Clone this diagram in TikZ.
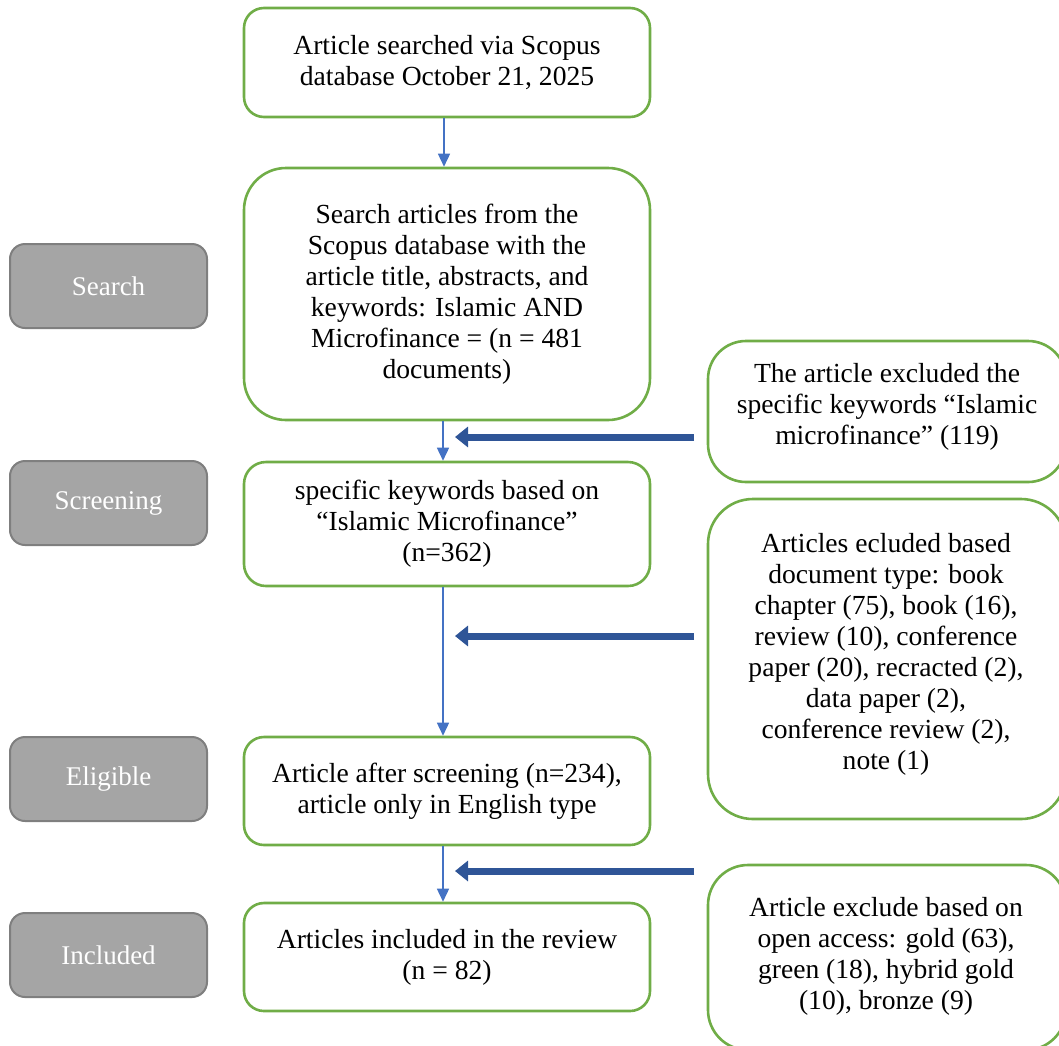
\documentclass[tikz,border=0pt]{standalone}
\usepackage{fontspec}
\setmainfont{Liberation Serif}
\usetikzlibrary{arrows.meta}
\definecolor{boxgreen}{HTML}{70AD47}
\definecolor{lblfill}{HTML}{A5A5A5}
\definecolor{lbldraw}{HTML}{7F7F7F}
\definecolor{thinblue}{HTML}{4472C4}
\definecolor{thickblue}{HTML}{2F5597}
\begin{document}
\begin{tikzpicture}[x=1pt,y=-1pt,
  box/.style={draw=boxgreen, line width=2.6pt, align=center, inner sep=0pt,
    font=\fontsize{27.6}{31}\selectfont, text=black},
  boxtext/.style={align=center, inner sep=0pt, font=\fontsize{27.6}{31}\selectfont, text=black},
  lbl/.style={draw=lbldraw, fill=lblfill, line width=2pt, rounded corners=15pt,
    minimum width=197pt, minimum height=84pt, inner sep=0pt,
    font=\fontsize{27}{31}\selectfont, text=white},
  thinarrow/.style={draw=thinblue, line width=1.5pt, -{Triangle[width=12pt,length=13pt]}},
  thickarrow/.style={draw=thickblue, line width=7pt, -{Triangle[width=20pt,length=13pt]}}
]
\useasboundingbox (0,0) rectangle (1059,1045);
\begin{scope}
\clip (0,0) rectangle (1059,1045);
% main column
\node[box, rounded corners=20pt, minimum width=406pt, minimum height=109pt] (b1) at (447,62.5)
  {Article searched via Scopus\\database October 21, 2025};
\node[box, rounded corners=42pt, minimum width=406pt, minimum height=252pt] (b2) at (447,294)
  {Search articles from the\\Scopus database with the\\article title, abstracts, and\\keywords: Islamic AND\\Microfinance = (n = 481\\documents)};
\node[box, rounded corners=22pt, minimum width=406pt, minimum height=124pt] (b3) at (447,524)
  {specific keywords based on\\“Islamic Microfinance”\\(n=362)};
\node[box, rounded corners=20pt, minimum width=406pt, minimum height=108pt] (b4) at (447,791)
  {Article after screening (n=234),\\article only in English type};
\node[box, rounded corners=20pt, minimum width=406pt, minimum height=108pt] (b5) at (447,957)
  {Articles included in the review\\(n = 82)};
% right column
\node[box, rounded corners=38pt, minimum width=358pt, minimum height=141pt] (r1) at (887,411.5) {};
\node[boxtext] (r1t) at (887,407)
  {The article excluded the\\specific keywords “Islamic\\microfinance” (119)};
\node[box, rounded corners=45pt, minimum width=358pt, minimum height=320pt] (r2) at (887,659) {};
\node[boxtext] (r2t) at (886,654)
  {Articles ecluded based\\document type: book\\chapter (75), book (16),\\review (10), conference\\paper (20), recracted (2),\\data paper (2),\\conference review (2),\\note (1)};
\node[box, rounded corners=40pt, minimum width=358pt, minimum height=185pt] (r3) at (887,957.5) {};
\node[boxtext] (r3t) at (886,956)
  {Article exclude based on\\open access: gold (63),\\green (18), hybrid gold\\(10), bronze (9)};
% labels
\node[lbl] (l1) at (108.5,286) {Search};
\node[lbl] (l2) at (108.5,503) {Screening};
\node[lbl] (l3) at (108.5,779) {Eligible};
\node[lbl] (l4) at (108.5,955) {Included};
% vertical arrows
\draw[thinarrow] ([xshift=-3pt]b1.south) -- ([xshift=-3pt]b2.north);
\draw[thinarrow] ([xshift=-4pt]b2.south) -- ([xshift=-4pt]b3.north);
\draw[thinarrow] ([xshift=-4pt]b3.south) -- ([xshift=-4pt]b4.north);
\draw[thinarrow] ([xshift=-4pt]b4.south) -- ([xshift=-4pt]b5.north);
% exclusion arrows
\coordinate (s1) at (694,437); \coordinate (e1) at (455,437);
\coordinate (s2) at (694,636); \coordinate (e2) at (455,636);
\coordinate (s3) at (694,871); \coordinate (e3) at (455,871);
\draw[thickarrow] (s1) -- (e1);
\draw[thickarrow] (s2) -- (e2);
\draw[thickarrow] (s3) -- (e3);
\end{scope}
\end{tikzpicture}
\end{document}
